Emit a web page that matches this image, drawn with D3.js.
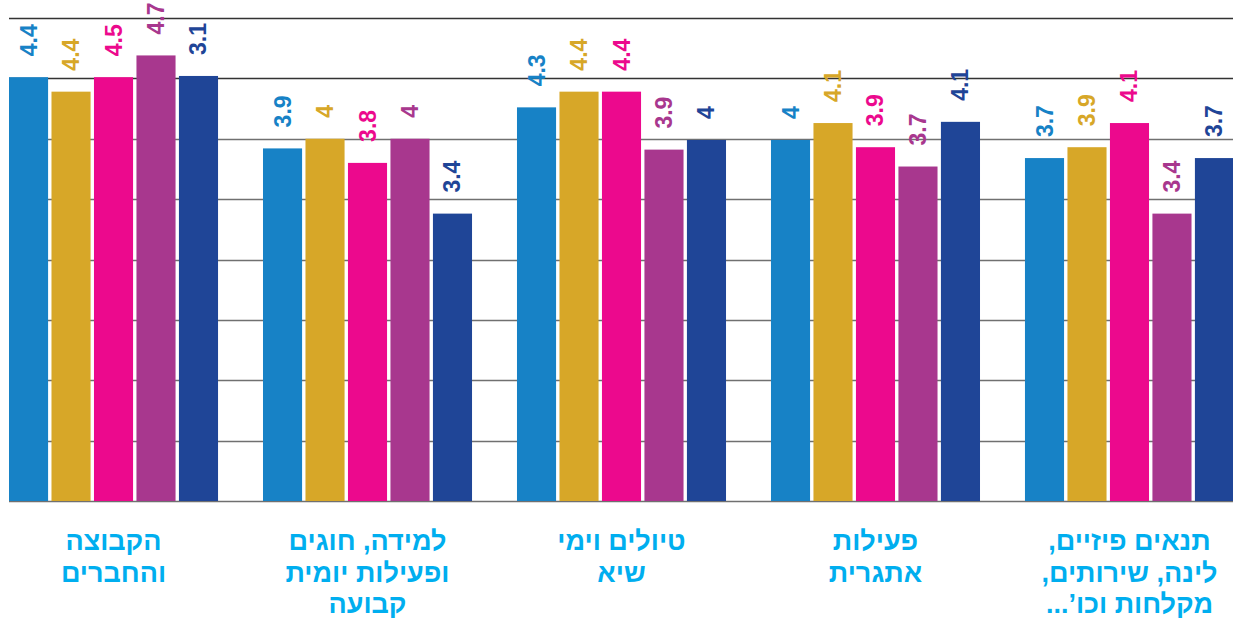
<!DOCTYPE html>
<html>
<head>
<meta charset="utf-8">
<script src="https://cdn.jsdelivr.net/npm/d3@7"></script>
<style>
  body { margin: 0; background: #fff; }
  #chart { width: 1233px; height: 624px; }
</style>
</head>
<body>
<div id="chart"></div>
<script>
// categories, left to right as drawn
const categories = [
  ['הקבוצה', 'והחברים'],
  ['למידה, חוגים', 'ופעילות יומית', 'קבועה'],
  ['טיולים וימי', 'שיא'],
  ['פעילות', 'אתגרית'],
  ['תנאים פיזיים,', 'לינה, שירותים,', 'מקלחות וכו’...']
];
const series = ['s1', 's2', 's3', 's4', 's5'];
const seriesColors = ['#1782c6', '#d7a728', '#ec098d', '#a8378e', '#1f4597'];

// bar heights, one row per category
const barValues = [
  [4.51, 4.39, 4.51, 4.69, 4.52],
  [3.92, 4.0, 3.8, 4.0, 3.38],
  [4.26, 4.39, 4.39, 3.91, 3.99],
  [3.99, 4.13, 3.93, 3.77, 4.14],
  [3.84, 3.93, 4.13, 3.38, 3.84]
];
// value labels printed above the bars
const barLabels = [
  ['4.4', '4.4', '4.5', '4.7', '3.1'],
  ['3.9', '4', '3.8', '4', '3.4'],
  ['4.3', '4.4', '4.4', '3.9', '4'],
  ['4', '4.1', '3.9', '3.7', '4.1'],
  ['3.7', '3.9', '4.1', '3.4', '3.7']
];
const yTicks = [1, 1.5, 2, 2.5, 3, 3.5, 4, 4.5, 5];

const width = 1233, height = 624;
const svg = d3.select('#chart').append('svg')
  .attr('width', width).attr('height', height);

const x0 = d3.scaleBand()
  .domain(d3.range(categories.length))
  .range([9, 1234])
  .paddingInner(0.177);
const x1 = d3.scaleBand()
  .domain(series)
  .range([0, x0.bandwidth()])
  .paddingInner(0.08);
const y = d3.scaleLinear().domain([1, 5]).range([501, 18]);

// grid
const grid = svg.append('g').attr('class', 'grid');
grid.selectAll('line')
  .data(yTicks)
  .enter()
  .append('line')
  .attr('x1', 9)
  .attr('x2', width)
  .attr('y1', (d) => Math.round(y(d)) + 0.5)
  .attr('y2', (d) => Math.round(y(d)) + 0.5)
  .attr('stroke', (d) => (d >= 4.5 ? '#333' : '#707070'))
  .attr('stroke-width', 1.4);

// bars
const groups = svg.append('g').selectAll('g.grp')
  .data(barValues)
  .enter()
  .append('g')
  .attr('class', 'grp')
  .attr('transform', (d, i) => 'translate(' + x0(i) + ',0)');

groups.selectAll('rect')
  .data((d, i) => d.map((v, j) => ({ v: v, j: j, label: barLabels[i][j] })))
  .enter()
  .append('rect')
  .attr('x', (d) => x1(series[d.j]))
  .attr('width', x1.bandwidth())
  .attr('y', (d) => y(d.v))
  .attr('height', (d) => y(1) - y(d.v))
  .attr('fill', (d) => seriesColors[d.j]);

groups.selectAll('text.val')
  .data((d, i) => d.map((v, j) => ({ v: v, j: j, label: barLabels[i][j] })))
  .enter()
  .append('text')
  .attr('class', 'val')
  .attr('transform', (d) =>
    'translate(' + (x1(series[d.j]) + x1.bandwidth() / 2) + ',' + (y(d.v) - 21) + ') rotate(-90)')
  .attr('text-anchor', 'start')
  .attr('dominant-baseline', 'central')
  .attr('font-family', 'Liberation Sans, Arial, sans-serif')
  .attr('font-weight', 'bold')
  .attr('font-size', '23px')
  .attr('fill', (d) => seriesColors[d.j])
  .text((d) => d.label);

// category labels
const cat = svg.append('g').selectAll('text.cat')
  .data(categories)
  .enter()
  .append('text')
  .attr('class', 'cat')
  .attr('x', (d, i) => x0(i) + x0.bandwidth() / 2)
  .attr('y', 550)
  .attr('text-anchor', 'middle')
  .attr('direction', 'rtl')
  .attr('font-family', 'Liberation Sans, Arial, sans-serif')
  .attr('font-weight', 'bold')
  .attr('font-size', '27px')
  .attr('fill', '#00aeef');

cat.selectAll('tspan')
  .data((d) => d)
  .enter()
  .append('tspan')
  .attr('x', function () { return d3.select(this.parentNode).attr('x'); })
  .attr('dy', (d, i) => (i === 0 ? 0 : 31.5))
  .text((d) => d);
</script>
</body>
</html>
